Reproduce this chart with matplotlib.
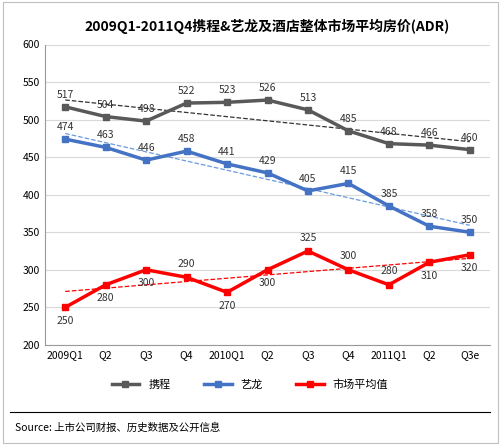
import numpy as np
import matplotlib.pyplot as plt
from matplotlib.lines import Line2D
from matplotlib.patches import Rectangle

plt.rcParams['font.family'] = ['Noto Sans CJK SC', 'DejaVu Sans']

quarters = ['2009Q1', 'Q2', 'Q3', 'Q4', '2010Q1', 'Q2', 'Q3', 'Q4', '2011Q1', 'Q2', 'Q3e']
ctrip = [517, 504, 498, 522, 523, 526, 513, 485, 468, 466, 460]
elong = [474, 463, 446, 458, 441, 429, 405, 415, 385, 358, 350]
market = [250, 280, 300, 290, 270, 300, 325, 300, 280, 310, 320]
# label above (+1) or below (-1) each market point
market_side = [-1, -1, -1, 1, -1, -1, 1, 1, 1, -1, -1]

series = [
    ('携程', ctrip, '#595959', '#333333'),
    ('艺龙', elong, '#4472C4', '#6a9be0'),
    ('市场平均值', market, '#FF0000', '#FF0000'),
]

fig = plt.figure(figsize=(5, 4.45), dpi=100)
ax = fig.add_axes([0.09, 0.225, 0.89, 0.675])
x = np.arange(len(quarters))

for name, vals, color, tcolor in series:
    ax.plot(x, vals, color=color, lw=2.5, marker='s', ms=5, zorder=3)
    k, b = np.polyfit(x, vals, 1)
    ax.plot(x, k * x + b, color=tcolor, lw=0.9, ls='--', zorder=2)

for vals in (ctrip, elong):
    for i, v in enumerate(vals):
        ax.annotate(str(v), (i, v), xytext=(0, 5), textcoords='offset points',
                    ha='center', va='bottom', fontsize=7.5, color='#333333')
for i, (v, s) in enumerate(zip(market, market_side)):
    ax.annotate(str(v), (i, v), xytext=(0, 6 * s), textcoords='offset points',
                ha='center', va='bottom' if s > 0 else 'top', fontsize=7.5, color='#333333')

ax.set_ylim(200, 600)
ax.set_yticks(range(200, 601, 50))
ax.set_xlim(-0.5, len(quarters) - 0.5)
ax.set_xticks(x)
ax.set_xticklabels(quarters, fontsize=7.5)
ax.tick_params(axis='y', labelsize=7.5, length=0)
ax.tick_params(axis='x', length=0)
ax.grid(axis='y', color='#d9d9d9', lw=0.8)
ax.set_axisbelow(True)
for sp in ['top', 'right']:
    ax.spines[sp].set_visible(False)
ax.spines['left'].set_color('#999999')
ax.spines['bottom'].set_color('#999999')

ax.set_title('2009Q1-2011Q4携程&艺龙及酒店整体市场平均房价(ADR)',
             fontsize=10, fontweight='bold', pad=10)

handles = [Line2D([], [], color=c, lw=2.5, marker='s', ms=5) for _, _, c, _ in series]
fig.legend(handles, [s[0] for s in series], loc='center', bbox_to_anchor=(0.5, 0.135),
           ncol=3, frameon=False, fontsize=8, columnspacing=3, handlelength=2.5)

fig.add_artist(Rectangle((0.005, 0.005), 0.99, 0.99, transform=fig.transFigure,
                         fill=False, ec='#bfbfbf', lw=0.8))
fig.add_artist(Line2D([0.02, 0.98], [0.075, 0.075], color='black', lw=0.8))
fig.text(0.03, 0.04, 'Source: 上市公司财报、历史数据及公开信息', fontsize=7.5, va='center')

fig.savefig('out.png', dpi=100)
